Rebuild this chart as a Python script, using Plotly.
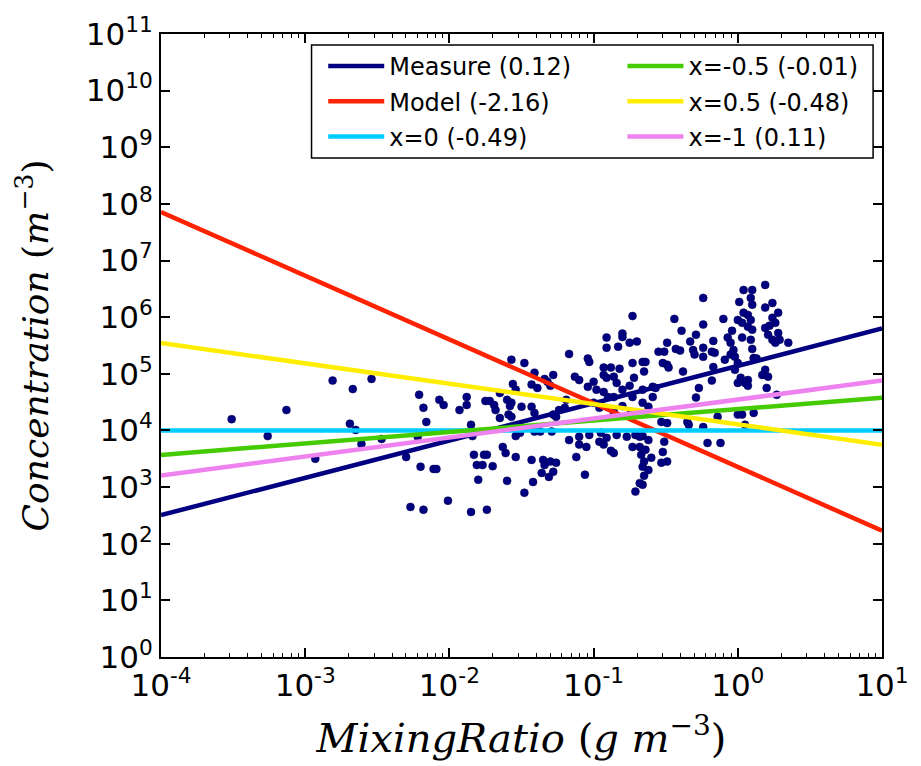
import plotly.graph_objects as go

# Observations: base-10 exponents of mixing ratio (g m^-3) and concentration (m^-3)
log_mixing = [
    -3.51, -3.26, -3.13, -2.93, -2.81, -2.67, -2.54, -2.69, -2.65, -2.61,
    -2.47, -2.30, -2.21, -2.18, -2.16, -2.22, -2.20, -2.11, -2.09, -2.07,
    -2.04, -1.93, -1.88, -1.88, -2.27, -2.18, -2.01, -1.57, -1.48, -1.41,
    -1.34, -1.32, -1.30, -1.28, -1.43, -1.39, -1.56, -1.65, -1.54, -1.75,
    -1.72, -1.69, -1.68, -1.60, -1.57, -1.58, -1.50, -1.43, -1.41, -1.59,
    -1.57, -1.65, -1.85, -1.84, -1.54, -1.51, -1.41, -1.37, -1.29, -1.83,
    -1.76, -1.74, -1.81, -1.77, -1.70, -1.63, -1.61, -1.54, -1.43, -1.35,
    -1.34, -1.36, -1.31, -1.80, -1.60, -1.42, -1.48, -1.85, -1.74, -0.73,
    -0.80, -0.80, -0.91, -0.91, -0.83, -0.75, -0.70, -1.17, -1.04, -1.03,
    -0.73, -0.66, -0.93, -0.88, -0.82, -0.72, -1.13, -1.10, -1.00, -0.93,
    -0.91, -0.86, -0.84, -1.04, -0.98, -0.93, -0.90, -0.86, -0.80, -0.75,
    -0.73, -0.66, -1.19, -1.20, -1.24, -1.00, -0.96, -0.86, -0.80, -1.28,
    -1.26, -0.74, -1.10, -1.03, -0.95, -0.91, -0.84, -0.77, -0.71, -0.66,
    -1.17, -1.10, -1.05, -0.96, -0.93, -0.88, -0.86, -0.73, -0.68, -1.12,
    -1.30, -1.26, -1.28, -1.06, -0.66, -0.71, -0.24, -0.44, -0.10, -0.24,
    -0.39, -0.29, -0.04, -0.49, -0.33, -0.17, -0.07, -0.05, -0.55, -0.51,
    -0.43, -0.40, -0.31, -0.30, -0.24, -0.24, -0.18, -0.16, -0.64, -0.52,
    -0.49, -0.48, -0.09, -0.17, -0.65, -0.38, -0.18, -0.59, -0.57, -0.27,
    -0.59, -0.29, -0.66, -0.62, -0.53, -0.49, -0.35, -0.34, -0.24, -0.14,
    -0.68, -0.62, -0.21, -0.12, -0.64, -0.51, -0.52, -0.49, -0.53, -0.67,
    -0.65, -0.60, -0.66, -0.62, -0.65, -0.68, 0.19, 0.04, 0.10, 0.09,
    0.01, 0.10, 0.24, 0.19, 0.28, 0.04, 0.07, 0.00, 0.03, 0.09,
    0.24, 0.26, 0.22, 0.07, 0.10, 0.19, 0.21, 0.28, 0.03, 0.09,
    0.24, 0.26, 0.29, 0.35, -0.03, -0.05, -0.02, 0.10, 0.11, 0.13,
    0.00, -0.02, 0.19, 0.21, 0.17, 0.02, 0.07, 0.05, 0.07, 0.00,
    0.20, 0.27, 0.00, 0.03, 0.11, 0.05,
]
log_conc = [
    4.20, 3.90, 4.36, 3.50, 4.88, 4.73, 4.91, 4.12, 4.01, 3.76,
    3.85, 3.53, 4.63, 4.40, 4.15, 3.89, 3.36, 3.32, 3.32, 4.54,
    4.45, 4.36, 4.59, 4.45, 2.65, 2.60, 2.76, 5.25, 5.19, 5.02,
    4.91, 4.86, 4.79, 4.98, 4.81, 4.75, 4.82, 4.66, 4.72, 4.52,
    4.52, 4.45, 4.36, 4.54, 4.49, 4.43, 4.42, 4.42, 4.31, 4.28,
    4.24, 4.22, 4.10, 3.90, 3.90, 3.96, 3.98, 3.98, 3.98, 3.57,
    3.57, 3.57, 3.39, 3.39, 3.37, 3.71, 3.60, 3.53, 3.48, 3.48,
    3.39, 3.25, 3.18, 3.13, 3.11, 3.09, 2.90, 2.56, 2.60, 6.02,
    5.71, 5.65, 5.64, 5.46, 5.48, 5.55, 5.57, 5.35, 5.27, 5.21,
    5.19, 5.21, 5.11, 5.11, 5.09, 4.93, 4.95, 4.89, 4.86, 4.98,
    4.93, 4.95, 4.84, 4.77, 4.72, 4.68, 4.59, 4.59, 4.72, 4.79,
    4.59, 4.72, 4.54, 4.40, 4.36, 4.49, 4.40, 4.33, 4.43, 4.28,
    4.24, 4.33, 3.89, 3.92, 3.96, 3.87, 3.92, 3.89, 3.92, 3.90,
    3.83, 3.75, 3.71, 3.80, 3.75, 3.64, 3.60, 3.71, 3.71, 3.53,
    3.45, 3.43, 3.27, 3.22, 3.04, 2.92, 6.34, 5.97, 5.97, 5.87,
    5.76, 5.69, 5.76, 5.55, 5.57, 5.58, 5.64, 5.55, 5.39, 5.39,
    5.44, 5.41, 5.42, 5.34, 5.46, 5.30, 5.39, 5.37, 5.21, 5.19,
    5.16, 5.11, 5.25, 5.12, 5.04, 5.04, 4.88, 4.77, 4.75, 4.75,
    4.59, 4.58, 4.49, 4.42, 4.15, 4.13, 4.15, 4.10, 4.06, 4.24,
    3.89, 3.83, 3.78, 3.78, 3.66, 3.80, 3.62, 3.45, 3.43, 3.57,
    3.45, 3.52, 3.36, 3.30, 3.20, 3.07, 6.57, 6.48, 6.48, 6.34,
    6.27, 6.22, 6.25, 6.17, 6.08, 6.08, 6.04, 5.95, 5.90, 5.95,
    5.99, 5.90, 5.85, 5.83, 5.78, 5.81, 5.69, 5.72, 5.64, 5.60,
    5.60, 5.55, 5.60, 5.55, 5.42, 5.34, 5.30, 5.44, 5.28, 5.27,
    5.19, 5.07, 5.07, 4.95, 4.98, 4.93, 4.89, 4.84, 4.79, 4.84,
    4.75, 4.63, 4.28, 4.28, 4.31, 4.10,
]

mixing = [10 ** v for v in log_mixing]
conc = [10 ** v for v in log_conc]

# Power-law fits, evaluated at both ends of the mixing-ratio range
fit_x = [1e-4, 1e1]
fit_names = ["Measure (0.12)", "Model (-2.16)", "x=0 (-0.49)",
             "x=-0.5 (-0.01)", "x=0.5 (-0.48)", "x=-1 (0.11)"]
fit_y = [
    [3.2e2, 6.3e5],
    [7.2e7, 1.7e2],
    [1.0e4, 1.0e4],
    [3.7e3, 3.8e4],
    [3.5e5, 5.6e3],
    [1.6e3, 7.6e4],
]
fit_colors = ["#000080", "#ff2200", "#00ccff", "#44cc00", "#ffee00", "#ee82ee"]
fit_legend = ["legend", "legend", "legend", "legend2", "legend2", "legend2"]

x_exponents = [-4, -3, -2, -1, 0, 1]
y_exponents = list(range(0, 12))

fig = go.Figure()
fig.add_trace(go.Scatter(
    x=mixing, y=conc, mode="markers", showlegend=False,
    marker=dict(color="#000080", size=8, line=dict(color="#000050", width=0.5)),
))
for name, ys, col, lg in zip(fit_names, fit_y, fit_colors, fit_legend):
    fig.add_trace(go.Scatter(
        x=fit_x, y=ys, mode="lines", name=name, legend=lg, legendgroup=name,
        line=dict(color=col, width=4.5),
    ))

tick_font = dict(family="DejaVu Sans", size=31, color="black")
legend_font = dict(family="DejaVu Sans", size=24, color="black")

fig.update_layout(
    width=921, height=766,
    margin=dict(l=161, r=33, t=34, b=109),
    paper_bgcolor="white", plot_bgcolor="white",
    xaxis=dict(
        type="log", range=[-4, 1],
        tickmode="array",
        tickvals=[10 ** e for e in x_exponents],
        ticktext=[f"10<sup>{e}</sup>" for e in x_exponents],
        ticks="inside", ticklen=9, tickwidth=1.5, tickcolor="black",
        minor=dict(ticks="inside", ticklen=4, tickwidth=1, tickcolor="black",
                   dtick="D1", showgrid=False),
        showline=True, linecolor="black", linewidth=2, mirror="allticks",
        showgrid=False, zeroline=False, tickfont=tick_font,
        title=dict(text="<i>MixingRatio</i> (<i>g m</i><sup>−3</sup>)",
                   font=dict(family="DejaVu Serif", size=40, color="black"),
                   standoff=22),
    ),
    yaxis=dict(
        type="log", range=[0, 11],
        tickmode="array",
        tickvals=[10 ** e for e in y_exponents],
        ticktext=[f"10<sup>{e}</sup>" for e in y_exponents],
        ticks="inside", ticklen=9, tickwidth=1.5, tickcolor="black",
        showline=True, linecolor="black", linewidth=2, mirror="allticks",
        showgrid=False, zeroline=False, tickfont=tick_font,
        title=dict(text="<i>Concentration</i> (<i>m</i><sup>−3</sup>)",
                   font=dict(family="DejaVu Serif", size=36, color="black"),
                   standoff=26),
    ),
    legend=dict(
        x=0.225, y=0.984, xanchor="left", yanchor="top",
        bgcolor="rgba(0,0,0,0)", borderwidth=0, tracegroupgap=1,
        itemwidth=56, font=legend_font,
    ),
    legend2=dict(
        x=0.64, y=0.984, xanchor="left", yanchor="top",
        bgcolor="rgba(0,0,0,0)", borderwidth=0, tracegroupgap=1,
        itemwidth=56, font=legend_font,
    ),
    shapes=[dict(type="rect", xref="paper", yref="paper",
                 x0=(313 - 161) / 728, x1=(880 - 161) / 728,
                 y0=1 - (158 - 34) / 623, y1=1 - (45 - 34) / 623,
                 line=dict(color="black", width=1.5), fillcolor="white",
                 layer="below")],
)

fig.write_html("out.html")
